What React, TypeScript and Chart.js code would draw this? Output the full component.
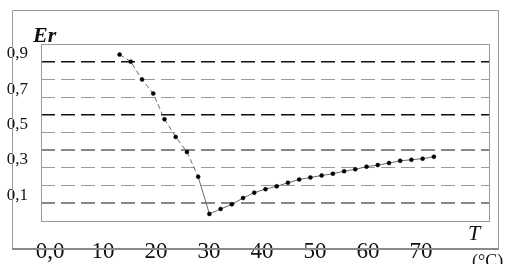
import React, { useEffect, useRef } from "react";
import { Chart, registerables } from "chart.js";

Chart.register(...registerables);

// Temperature T (°C)
const temperatures = [
  14, 16, 18, 20, 22, 24, 26, 28, 30, 32, 34, 36, 38, 40, 42, 44, 46, 48, 50,
  52, 54, 56, 58, 60, 62, 64, 66, 68, 70,
];
// Er values
const erValues = [
  0.94, 0.9, 0.8, 0.72, 0.575, 0.475, 0.39, 0.25, 0.04, 0.068, 0.094, 0.13,
  0.16, 0.18, 0.196, 0.216, 0.234, 0.246, 0.257, 0.267, 0.281, 0.292, 0.307,
  0.316, 0.327, 0.34, 0.346, 0.352, 0.363,
];
const xTickValues = [0, 10, 20, 30, 40, 50, 60, 70];
const xTickLabels = ["0,0", "10", "20", "30", "40", "50", "60", "70"];
const yTickValues = [0.1, 0.3, 0.5, 0.7, 0.9];
const yTickLabels = ["0,1", "0,3", "0,5", "0,7", "0,9"];
const yAxisTitle = "Er";
const xAxisTitle = "T";
const xAxisUnit = "(°C)";

const SERIF = "'Liberation Serif', 'Times New Roman', serif";

const framePlugin = {
  id: "frames",
  beforeDatasetsDraw(chart: any) {
    const { ctx, chartArea } = chart;
    ctx.save();
    // outer box
    ctx.strokeStyle = "#9a9a9a";
    ctx.lineWidth = 1;
    ctx.beginPath();
    ctx.moveTo(12.5, 249);
    ctx.lineTo(12.5, 10.5);
    ctx.lineTo(498.5, 10.5);
    ctx.lineTo(498.5, 249);
    ctx.stroke();
    ctx.lineWidth = 2;
    ctx.strokeStyle = "#8a8a8a";
    ctx.beginPath();
    ctx.moveTo(12, 249);
    ctx.lineTo(499, 249);
    ctx.stroke();
    // plot frame
    ctx.lineWidth = 1;
    ctx.strokeStyle = "#999";
    ctx.strokeRect(
      Math.round(chartArea.left) + 0.5,
      Math.round(chartArea.top) + 0.5,
      Math.round(chartArea.right - chartArea.left) - 1,
      Math.round(chartArea.bottom - chartArea.top)
    );
    ctx.restore();
  },
  afterDraw(chart: any) {
    const { ctx } = chart;
    ctx.save();
    ctx.fillStyle = "#111";
    ctx.textBaseline = "alphabetic";
    ctx.textAlign = "left";
    ctx.font = `italic bold 22px ${SERIF}`;
    ctx.fillText(yAxisTitle, 33, 42);
    ctx.font = `italic 22px ${SERIF}`;
    ctx.fillText(xAxisTitle, 468, 240);
    ctx.font = `18px ${SERIF}`;
    ctx.fillText(xAxisUnit, 472, 267);
    ctx.restore();
  },
};

function gridStyle(v: number) {
  const i = Math.round(v * 10);
  if (i <= 0 || i >= 10) return { color: "rgba(0,0,0,0)", width: 1 };
  if (i === 9 || i === 6) return { color: "#111", width: 1.4 };
  if (i === 4 || i === 1) return { color: "#888", width: 2 };
  return { color: "#9a9a9a", width: 1 };
}

export default function App() {
  const ref = useRef<HTMLCanvasElement | null>(null);
  useEffect(() => {
    if (!ref.current) return;
    const chart = new Chart(ref.current, {
      type: "line",
      data: {
        datasets: [
          {
            data: temperatures.map((t, i) => ({ x: t, y: erValues[i] })),
            borderColor: "#6a6a6a",
            borderWidth: 1,
            pointRadius: 2,
            pointBackgroundColor: "#000",
            pointBorderColor: "#000",
            pointBorderWidth: 0.5,
            tension: 0,
            segment: {
              borderDash: (c: any) => (c.p0.parsed.x < 28 ? [5, 3] : undefined),
            },
          },
        ],
      },
      options: {
        animation: false,
        responsive: false,
        devicePixelRatio: 1,
        layout: { padding: { left: 0, top: 44, right: 42, bottom: 0 } },
        plugins: {
          legend: { display: false },
          tooltip: { enabled: false },
          title: { display: false },
        },
        scales: {
          x: {
            type: "linear",
            display: false,
            min: 0,
            max: 80,
          },
          xl: {
            type: "linear",
            position: "bottom",
            axis: "x",
            min: -1.7,
            max: 83,
            grid: { display: false },
            border: { display: false },
            afterBuildTicks: (scale: any) => {
              scale.ticks = xTickValues.map((v) => ({ value: v }));
            },
            afterFit: (scale: any) => {
              scale.height = 43;
            },
            ticks: {
              autoSkip: false,
              maxRotation: 0,
              padding: 9,
              color: "#111",
              font: { family: SERIF, size: 23 },
              callback: (v: any) => {
                const idx = xTickValues.indexOf(Math.round(Number(v)));
                return idx >= 0 ? xTickLabels[idx] : "";
              },
            },
          },
          y: {
            type: "linear",
            min: 0,
            max: 1,
            afterFit: (scale: any) => {
              scale.width = 41;
            },
            grid: {
              drawTicks: false,
              color: (c: any) => gridStyle(c.tick ? c.tick.value : 0).color,
              lineWidth: (c: any) => gridStyle(c.tick ? c.tick.value : 0).width,
            },
            border: { display: false, dash: [14, 6] },
            ticks: {
              stepSize: 0.1,
              autoSkip: false,
              padding: 13,
              labelOffset: -8,
              color: "#111",
              font: { family: SERIF, size: 17 },
              callback: (v: any) => {
                const n = Math.round(Number(v) * 10);
                const idx = yTickValues.findIndex((t) => Math.round(t * 10) === n);
                return idx >= 0 ? yTickLabels[idx] : "";
              },
            },
          },
        },
      },
      plugins: [framePlugin],
    } as any);
    return () => chart.destroy();
  }, []);
  return (
    <div style={{ position: "fixed", left: 0, top: 0, width: 532, height: 264, background: "#fff" }}>
      <canvas ref={ref} width={532} height={264} style={{ display: "block" }} />
    </div>
  );
}
